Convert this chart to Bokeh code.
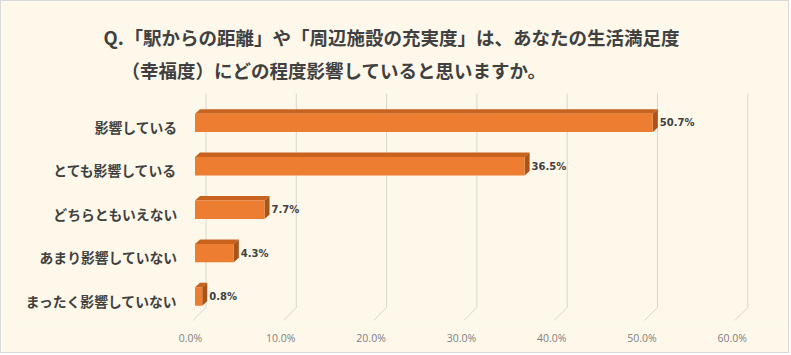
from bokeh.plotting import figure
from bokeh.models import Range1d, LinearAxis, FixedTicker, Label
from bokeh.core.properties import value
from bokeh.embed import file_html
from bokeh.resources import INLINE

# ---------------- data ----------------
categories = ["影響している", "とても影響している", "どちらともいえない",
              "あまり影響していない", "まったく影響していない"]
percentages = [50.7, 36.5, 7.7, 4.3, 0.8]
value_labels = ["50.7%", "36.5%", "7.7%", "4.3%", "0.8%"]
x_ticks = [0, 10, 20, 30, 40, 50, 60]
x_tick_labels = ["0.0%", "10.0%", "20.0%", "30.0%", "40.0%", "50.0%", "60.0%"]
title_prefix = "Q."
title_line1 = "「駅からの距離」や「周辺施設の充実度」は、あなたの生活満足度"
title_line2 = "（幸福度）にどの程度影響していると思いますか。"

# ---------------- layout constants (page pixels) ----------------
OFF = 1                 # css border width
W, H = 791 - 2 * OFF, 355 - 2 * OFF
FRAME_BOTTOM = 323      # page y of the frame bottom
PX = 9.03               # px per percent
UY = 43.4               # px per category step
ZERO = 194.5            # page x of 0% on the front plane
BASE = 296              # page y of the lowest bar centre

FH = FRAME_BOTTOM - OFF
x_start = -(ZERO - OFF) / PX
x_end = x_start + W / PX
y_end = (BASE - OFF) / UY
y_start = y_end - FH / UY

def fx(px):   # page px -> data x
    return x_start + (px - OFF) / PX

def fy(py):   # page px (from top) -> data y
    return (BASE - py) / UY

BG = "#FEF8EA"
TXT = "#404040"

p = figure(width=W, height=H, output_backend="svg", toolbar_location=None,
           x_range=Range1d(x_start, x_end), y_range=Range1d(y_start, y_end),
           x_axis_location=None, y_axis_location=None,
           min_border_left=0, min_border_right=0, min_border_top=0,
           min_border_bottom=H - FH)
p.background_fill_color = BG
p.border_fill_color = BG
p.outline_line_color = None
p.xgrid.visible = False
p.ygrid.visible = False
p.styles = {"border": "1px solid #D9D9D9"}

n = len(categories)
ypos = [n - 1 - i for i in range(n)]

# ---------------- 3D gridlines (back wall + floor) ----------------
g_back = 11 / PX
g_front = -2 / PX
gx, gy = [], []
for t in x_ticks:
    gx.append([t + g_back, t + g_back, t + g_front])
    gy.append([fy(93), fy(307), fy(320)])
p.multi_line(gx, gy, line_color="#D9D6CE", line_width=1)

# ---------------- bars ----------------
half = 9.2 / UY
DX = 5 / PX
DY = 4.5 / UY
bottoms = [y - half for y in ypos]
tops = [y + half for y in ypos]

top_xs = [[0, v, v + DX, DX] for v in percentages]
top_ys = [[t, t, t + DY, t + DY] for t in tops]
side_xs = [[v, v + DX, v + DX, v] for v in percentages]
side_ys = [[b, b + DY, t + DY, t] for b, t in zip(bottoms, tops)]

p.patches(top_xs, top_ys, fill_color="#C8631F", line_color=None)
p.patches(side_xs, side_ys, fill_color="#A9541A", line_color=None)
p.quad(left=[0] * n, right=percentages, bottom=bottoms, top=tops,
       fill_color="#ED7D31", line_color=None)

# value labels
p.text(x=percentages, y=ypos, text=value_labels, x_offset=7,
       text_baseline="middle", text_align="left",
       text_font=value("DejaVu Sans"), text_font_style="bold",
       text_font_size="10px", text_color=TXT)

# category labels
p.text(x=[fx(177)] * n, y=ypos, text=categories, y_offset=4,
       text_baseline="middle", text_align="right",
       text_font=value("Noto Sans CJK JP"), text_font_style="bold",
       text_font_size="13.8px", text_color=TXT)

# ---------------- x axis ----------------
p.extra_x_ranges = {"tick": Range1d(x_start + 0.5, x_end + 0.5)}
xaxis = LinearAxis(x_range_name="tick", ticker=FixedTicker(ticks=x_ticks),
                   major_label_overrides={t: s for t, s in zip(x_ticks, x_tick_labels)})
xaxis.axis_line_color = None
xaxis.major_tick_line_color = None
xaxis.minor_tick_line_color = None
xaxis.major_tick_out = 0
xaxis.major_tick_in = 0
xaxis.major_label_standoff = 7
xaxis.major_label_text_font = "Open Sans"
xaxis.major_label_text_font_size = "10.5px"
xaxis.major_label_text_color = "#7F7F7F"
p.add_layout(xaxis, "below")

# ---------------- title ----------------
for txt, px_x, px_y in [(title_prefix, 103, 36), (title_line1, 124, 36), (title_line2, 121, 69)]:
    p.add_layout(Label(x=fx(px_x), y=fy(px_y), text=txt,
                       text_font="Noto Sans CJK JP", text_font_style="bold",
                       text_font_size="18.5px", text_color=TXT,
                       text_baseline="middle", text_align="left"))

open("out.html", "w").write(file_html(p, INLINE))
